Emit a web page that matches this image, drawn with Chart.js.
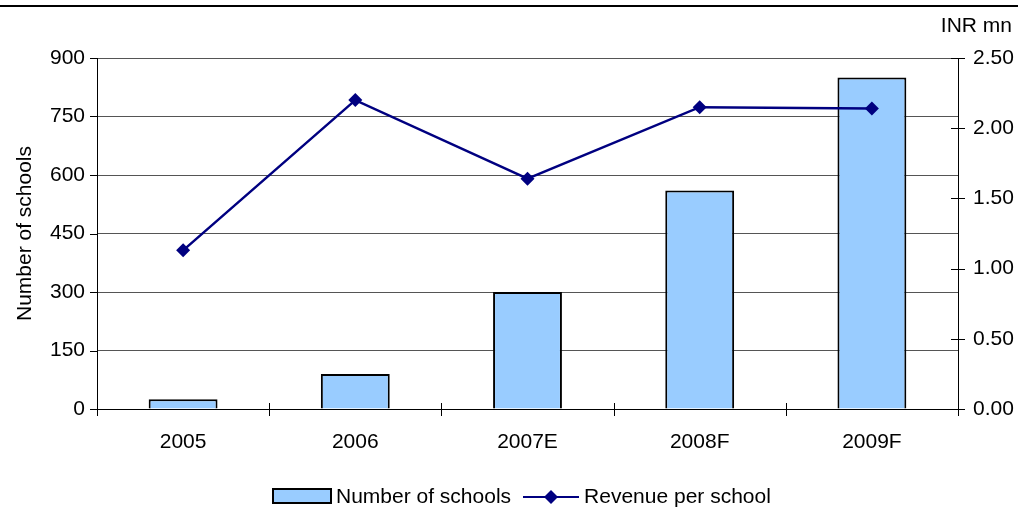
<!DOCTYPE html>
<html>
<head>
<meta charset="utf-8">
<script src="https://cdn.jsdelivr.net/npm/chart.js@4/dist/chart.umd.min.js"></script>
<style>
  body { margin: 0; background: #fff; font-family: "Liberation Sans", Arial, sans-serif; }
  #wrap { position: relative; width: 1018px; height: 508px; overflow: hidden; }
  #rule { position: absolute; left: 0; top: 5px; width: 1018px; height: 2px; background: #000; }
  #unit { position: absolute; right: 6px; top: 13px; font-size: 21px; color: #000; }
  #legend { position: absolute; left: 272px; top: 484px; font-size: 21px; line-height: 24px; color: #000; white-space: nowrap; }
  #legend .box { display: inline-block; width: 56px; height: 12px; background: #99ccff; border: 2px solid #000; vertical-align: -1px; margin-right: 4px; }
  #legend svg { vertical-align: -2px; margin: 0 5px 0 12px; }
</style>
</head>
<body>
<div id="wrap">
  <div id="rule"></div>
  <div id="unit">INR mn</div>
  <canvas id="school-chart" width="1018" height="508"></canvas>
  <div id="legend"><span class="box"></span>Number of schools<svg width="56" height="16"><line x1="0" y1="8" x2="56" y2="8" stroke="#000080" stroke-width="2"/><polygon points="28,1 35,8 28,15 21,8" fill="#000080"/></svg>Revenue per school</div>
</div>
<script>
const years = ['2005', '2006', '2007E', '2008F', '2009F'];
const schools = [25, 90, 300, 560, 850];
const revenuePerSchool = [1.13, 2.20, 1.64, 2.15, 2.14];
const schoolAxis = { max: 900, step: 150 };
const revenueAxis = { max: 2.5, step: 0.5 };

Chart.defaults.font.family = '"Liberation Sans", Arial, sans-serif';
Chart.defaults.font.size = 21;
Chart.defaults.color = '#000';

// tick marks: outside on the left axis, crossing on the right and bottom axes
const tickMarks = {
  id: 'tickMarks',
  afterDraw(chart) {
    const { ctx, scales: { x, y, y1 } } = chart;
    ctx.save();
    ctx.strokeStyle = '#000';
    ctx.lineWidth = 1;
    ctx.beginPath();
    y.ticks.forEach((t, i) => {
      const py = Math.round(y.getPixelForTick(i)) + 0.5;
      ctx.moveTo(y.right - 7, py);
      ctx.lineTo(y.right, py);
    });
    y1.ticks.forEach((t, i) => {
      const py = Math.round(y1.getPixelForTick(i)) + 0.5;
      ctx.moveTo(y1.left - 7, py);
      ctx.lineTo(y1.left + 7, py);
    });
    const step = x.width / years.length;
    for (let i = 0; i <= years.length; i++) {
      const px = Math.round(x.left + i * step) + 0.5;
      ctx.moveTo(px, x.top - 6);
      ctx.lineTo(px, x.top + 7);
    }
    ctx.stroke();
    ctx.restore();
  }
};

new Chart(document.getElementById('school-chart'), {
  type: 'bar',
  data: {
    labels: years,
    datasets: [{
      type: 'line',
      label: 'Revenue per school',
      data: revenuePerSchool,
      yAxisID: 'y1',
      borderColor: '#000080',
      borderWidth: 2.5,
      pointStyle: 'rectRot',
      pointRadius: 7,
      pointBackgroundColor: '#000080',
      pointBorderWidth: 0,
      tension: 0,
      order: 0
    }, {
      label: 'Number of schools',
      data: schools,
      yAxisID: 'y',
      backgroundColor: '#99ccff',
      borderColor: '#000',
      borderWidth: 2,
      barPercentage: 0.4,
      categoryPercentage: 1,
      order: 1
    }]
  },
  options: {
    responsive: false,
    animation: false,
    layout: { padding: { top: 58, left: 0, right: 0, bottom: 0 } },
    plugins: { legend: { display: false }, tooltip: { enabled: false } },
    scales: {
      x: {
        grid: { display: false },
        border: { display: true, color: '#000', width: 1 },
        ticks: { padding: 13 },
        afterFit: s => { s.height = 99; }
      },
      y: {
        position: 'left',
        min: 0,
        max: schoolAxis.max,
        ticks: { stepSize: schoolAxis.step, padding: 12 },
        grid: { color: '#555', drawTicks: false },
        border: { display: true, color: '#000', width: 1 },
        title: { display: true, text: 'Number of schools', padding: { top: 13, bottom: 0 } },
        afterFit: s => { s.width = 97; }
      },
      y1: {
        position: 'right',
        min: 0,
        max: revenueAxis.max,
        ticks: { stepSize: revenueAxis.step, padding: 15, callback: v => v.toFixed(2) },
        grid: { drawOnChartArea: false, drawTicks: false },
        border: { display: true, color: '#000', width: 1 },
        afterFit: s => { s.width = 60; }
      }
    }
  },
  plugins: [tickMarks]
});
</script>
</body>
</html>
